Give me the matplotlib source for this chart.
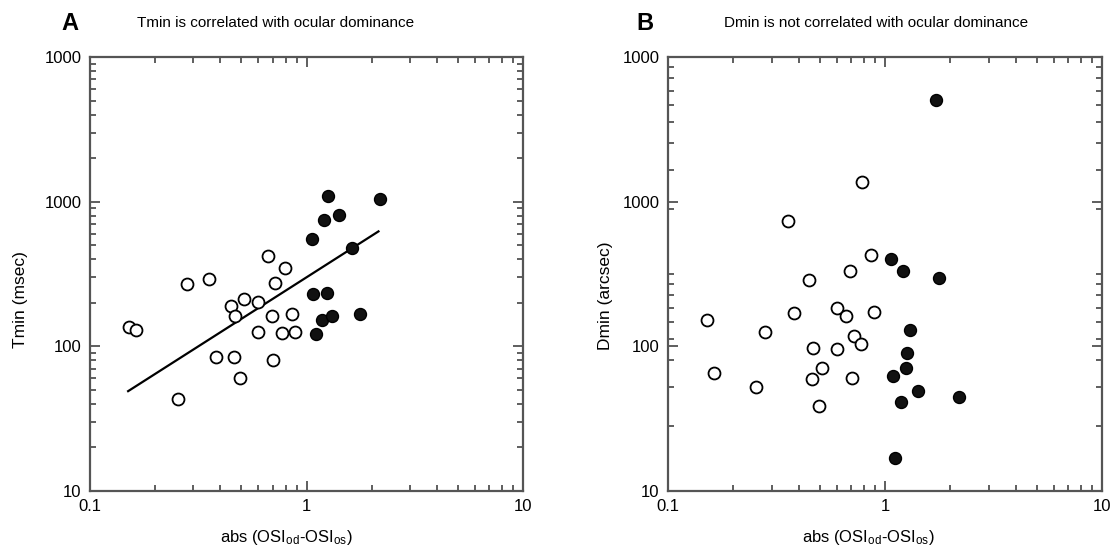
import numpy as np
import matplotlib
matplotlib.use("Agg")
import matplotlib.pyplot as plt
from matplotlib.ticker import FixedLocator, NullFormatter

plt.rcParams['font.family'] = ['Liberation Sans', 'DejaVu Sans']
plt.rcParams['mathtext.fontset'] = 'custom'
plt.rcParams['mathtext.rm'] = 'Liberation Sans'
plt.rcParams['mathtext.it'] = 'Liberation Sans'

# panel A: Tmin vs abs(OSIod - OSIos)
a_open_x = [0.151, 0.163, 0.281, 0.355, 0.662, 0.793, 0.715, 0.515, 0.447, 0.599, 0.466,
            0.691, 0.855, 0.599, 0.773, 0.888, 0.383, 0.462, 0.698, 0.494, 0.254]
a_open_y = [136, 130, 271, 292, 418, 346, 274, 212, 191, 203, 161,
            163, 167, 125, 123, 125, 84, 84, 81, 60.5, 43.5]
a_fill_x = [1.26, 1.21, 1.41, 2.18, 1.06, 1.62, 1.07, 1.24, 1.175, 1.31, 1.77, 1.106]
a_fill_y = [1101, 743, 809, 1038, 548, 481, 230, 235, 153, 161, 166, 121]
fit_x = [0.15, 2.15]
fit_y = [49, 623]

# panel B: Dmin vs abs(OSIod - OSIos)
b_open_x = [0.783, 0.356, 0.859, 0.688, 0.447, 0.152, 0.382, 0.599, 0.663, 0.893, 0.281,
            0.464, 0.599, 0.717, 0.775, 0.163, 0.254, 0.462, 0.514, 0.703, 0.495]
b_open_y = [1366, 738, 425, 331, 286, 152, 170, 185, 163, 173, 125,
            97.8, 95.8, 118, 103, 65.1, 52.6, 59.4, 70.5, 60.4, 38.9]
b_fill_x = [1.72, 1.07, 1.21, 1.78, 1.31, 1.26, 1.245, 1.085, 1.42, 1.185, 2.19, 1.11]
b_fill_y = [5040, 399, 331, 295, 130, 90.3, 70.5, 62.6, 49.1, 41.4, 44.6, 16.9]

ytick_vals = [10, 100, 1000, 10000]
ytick_labels = ['10', '100', '1000', '1000']
xtick_vals = [0.1, 1, 10]
xtick_labels = ['0.1', '1', '10']

fig = plt.figure(figsize=(11.1, 5.52), dpi=100)
axA = fig.add_axes([90/1110, 61/552, 433/1110, 434/552])
axB = fig.add_axes([668/1110, 61/552, 434/1110, 434/552])


def style(ax):
    ax.set_xscale('log')
    ax.set_yscale('log')
    ax.set_xlim(0.1, 10)
    ax.set_ylim(10, 10000)
    ax.set_xticks(xtick_vals)
    ax.set_xticklabels(xtick_labels)
    ax.set_yticks(ytick_vals)
    ax.set_yticklabels(ytick_labels)
    ax.yaxis.set_minor_formatter(NullFormatter())
    ax.xaxis.set_minor_formatter(NullFormatter())
    ax.tick_params(which='both', direction='in', top=True, right=True,
                   color='#333333', labelsize=12, pad=6)
    ax.tick_params(which='major', length=7, width=1.1)
    ax.tick_params(which='minor', length=4, width=1.1)
    for s in ax.spines.values():
        s.set_color('#555555')
        s.set_linewidth(1.6)


def scatter(ax, ox, oy, fx, fy):
    ax.plot(ox, oy, 'o', ms=8.6, mfc='white', mec='black', mew=1.3, ls='')
    ax.plot(fx, fy, 'o', ms=8.6, mfc='#111111', mec='black', mew=1.0, ls='')


style(axA)
style(axB)

# right panel minor ticks follow a two-decade layout
minor_b = [10 * (k * 10**j / 10) ** 1.5 for j in (1, 2) for k in range(1, 10)] + [10000]
axB.yaxis.set_minor_locator(FixedLocator(minor_b))

axA.plot(fit_x, fit_y, color='black', lw=1.6)
scatter(axA, a_open_x, a_open_y, a_fill_x, a_fill_y)
scatter(axB, b_open_x, b_open_y, b_fill_x, b_fill_y)

xlab = r'abs (OSI$_{\mathrm{od}}$-OSI$_{\mathrm{os}}$)'
axA.set_xlabel(xlab, fontsize=12)
axB.set_xlabel(xlab, fontsize=12)
axA.xaxis.set_label_coords(0.453, -0.085)
axB.xaxis.set_label_coords(0.461, -0.085)
axA.set_ylabel('Tmin (msec)', fontsize=12.5)
axB.set_ylabel('Dmin (arcsec)', fontsize=12.5)
axA.yaxis.set_label_coords(-0.143, 0.44)
axB.yaxis.set_label_coords(-0.127, 0.45)

fig.text(70/1110, 1 - 23/552, 'A', fontsize=17, fontweight='bold', ha='center', va='center')
fig.text(645/1110, 1 - 23/552, 'B', fontsize=17, fontweight='bold', ha='center', va='center')
fig.text(276/1110, 1 - 23/552, 'Tmin is correlated with ocular dominance',
         fontsize=11, ha='center', va='center')
fig.text(876/1110, 1 - 23/552, 'Dmin is not correlated with ocular dominance',
         fontsize=11, ha='center', va='center')

fig.savefig('out.png', dpi=100)
